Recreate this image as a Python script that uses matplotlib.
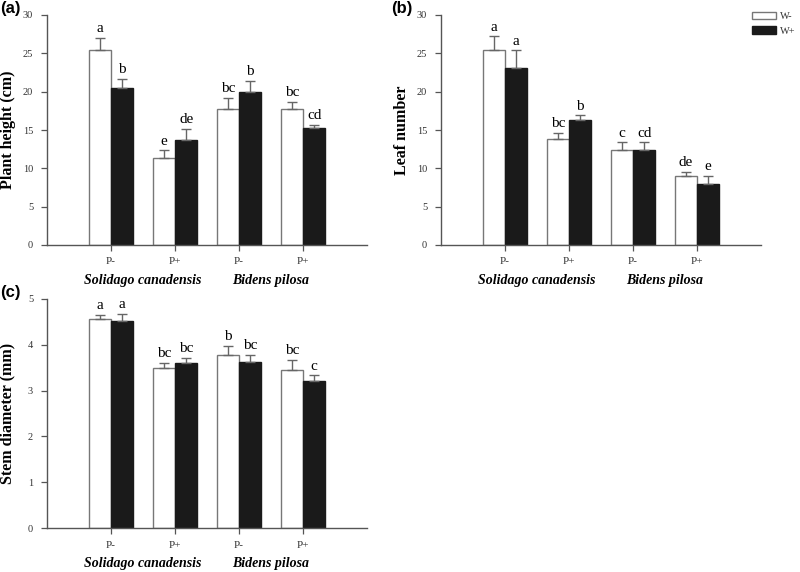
import matplotlib
matplotlib.use("Agg")
import matplotlib.pyplot as plt
import numpy as np
from matplotlib.transforms import blended_transform_factory
from matplotlib.patches import Patch

# ---- data ----
groups = ["P-", "P+", "P-", "P+"]
species = ["Solidago canadensis", "Bidens pilosa"]
series = ["W-", "W+"]

height_wm = [25.5, 11.3, 17.7, 17.8]
height_wm_err = [1.5, 1.05, 1.5, 0.9]
height_wp = [20.5, 13.7, 20.0, 15.2]
height_wp_err = [1.2, 1.4, 1.4, 0.5]
height_let_wm = ["a", "e", "bc", "bc"]
height_let_wp = ["b", "de", "b", "cd"]

leaf_wm = [25.5, 13.8, 12.4, 9.0]
leaf_wm_err = [1.7, 0.85, 1.0, 0.5]
leaf_wp = [23.1, 16.35, 12.4, 7.9]
leaf_wp_err = [2.3, 0.55, 1.0, 1.1]
leaf_let_wm = ["a", "bc", "c", "de"]
leaf_let_wp = ["a", "b", "cd", "e"]

stem_wm = [4.56, 3.50, 3.78, 3.46]
stem_wm_err = [0.10, 0.11, 0.19, 0.21]
stem_wp = [4.52, 3.60, 3.62, 3.21]
stem_wp_err = [0.16, 0.11, 0.16, 0.12]
stem_let_wm = ["a", "bc", "b", "bc"]
stem_let_wp = ["a", "bc", "bc", "c"]

serif = ["Liberation Serif", "DejaVu Serif"]
axcol = "#555555"

fig = plt.figure(figsize=(8.0, 5.72), dpi=100)
W, H = 800, 572

def make_ax(left_px, top_px, bottom_px, right_px):
    return fig.add_axes([left_px / W, 1 - bottom_px / H,
                         (right_px - left_px) / W, (bottom_px - top_px) / H])

def draw(ax, wm, wme, wp, wpe, lwm, lwp, ymax, ystep, ylabel, lab_off):
    x = np.arange(len(groups))
    bw = 0.35
    ax.bar(x - bw / 2, wm, bw, color="white", edgecolor="#777777", linewidth=1.0,
           yerr=[np.zeros(len(wme)), wme], error_kw=dict(ecolor="#666666", elinewidth=1.0,
                                                        capsize=3.5, capthick=1.0), zorder=2)
    ax.bar(x + bw / 2, wp, bw, color="#1a1a1a", edgecolor="#1a1a1a", linewidth=1.0,
           yerr=[np.zeros(len(wpe)), wpe], error_kw=dict(ecolor="#666666", elinewidth=1.0,
                                                        capsize=3.5, capthick=1.0), zorder=2)
    pad = ymax * 0.012
    for i in range(len(groups)):
        ax.text(x[i] - bw / 2, wm[i] + wme[i] + pad, lwm[i], ha="center", va="bottom",
                fontsize=11, family=serif)
        ax.text(x[i] + bw / 2, wp[i] + wpe[i] + pad, lwp[i], ha="center", va="bottom",
                fontsize=11, family=serif)
    ax.set_xlim(-1, 4)
    ax.set_ylim(0, ymax)
    ax.set_yticks(np.arange(0, ymax + 0.001, ystep))
    ax.set_xticks(x)
    ax.set_xticklabels(groups, family=serif, fontsize=8, color="#333333")
    for lab in ax.get_yticklabels():
        lab.set_family(serif)
        lab.set_fontsize(7.5)
        lab.set_color("#333333")
    ax.tick_params(axis="both", direction="out", length=4, width=0.9, color=axcol)
    ax.tick_params(axis="x", pad=5)
    ax.tick_params(axis="y", pad=6)
    for s in ["top", "right"]:
        ax.spines[s].set_visible(False)
    for s in ["left", "bottom"]:
        ax.spines[s].set_color(axcol)
        ax.spines[s].set_linewidth(1.0)
    ax.set_ylabel(ylabel, family=serif, fontweight="bold", fontsize=11.5)
    ax.yaxis.set_label_coords(lab_off, 0.5)
    tr = blended_transform_factory(ax.transData, ax.transAxes)
    ax.text(0.5, -0.155, species[0], transform=tr, ha="center", va="center",
            family=serif, fontweight="bold", fontstyle="italic", fontsize=10)
    ax.text(2.5, -0.155, species[1], transform=tr, ha="center", va="center",
            family=serif, fontweight="bold", fontstyle="italic", fontsize=10)
    return ax

axa = make_ax(47, 15, 245, 367)
draw(axa, height_wm, height_wm_err, height_wp, height_wp_err, height_let_wm, height_let_wp,
     30, 5, "Plant height (cm)", -0.098)
axb = make_ax(441, 15, 245, 761)
draw(axb, leaf_wm, leaf_wm_err, leaf_wp, leaf_wp_err, leaf_let_wm, leaf_let_wp,
     30, 5, "Leaf number", -0.098)
axc = make_ax(47, 299, 528, 367)
draw(axc, stem_wm, stem_wm_err, stem_wp, stem_wp_err, stem_let_wm, stem_let_wp,
     5, 1, "Stem diameter (mm)", -0.098)

for lbl, xp, yp in [("(a)", 0, 9), ("(b)", 391, 9), ("(c)", 0, 293)]:
    fig.text(xp / W, 1 - yp / H, lbl, ha="left", va="center", fontsize=12,
             fontweight="bold", family=["Liberation Sans", "DejaVu Sans"])

handles = [Patch(facecolor="white", edgecolor="#777777", linewidth=1.0),
           Patch(facecolor="#1a1a1a", edgecolor="#1a1a1a", linewidth=1.0)]
leg = fig.legend(handles, series, loc="upper left", bbox_to_anchor=(752 / W, 1 - 12 / H),
                 frameon=False, prop=dict(family=serif, size=7.5), handlelength=2.3,
                 handleheight=0.7, labelspacing=0.5, handletextpad=0.4, borderaxespad=0,
                 borderpad=0)
for t in leg.get_texts():
    t.set_color("#333333")

fig.savefig("out.png", dpi=100)
